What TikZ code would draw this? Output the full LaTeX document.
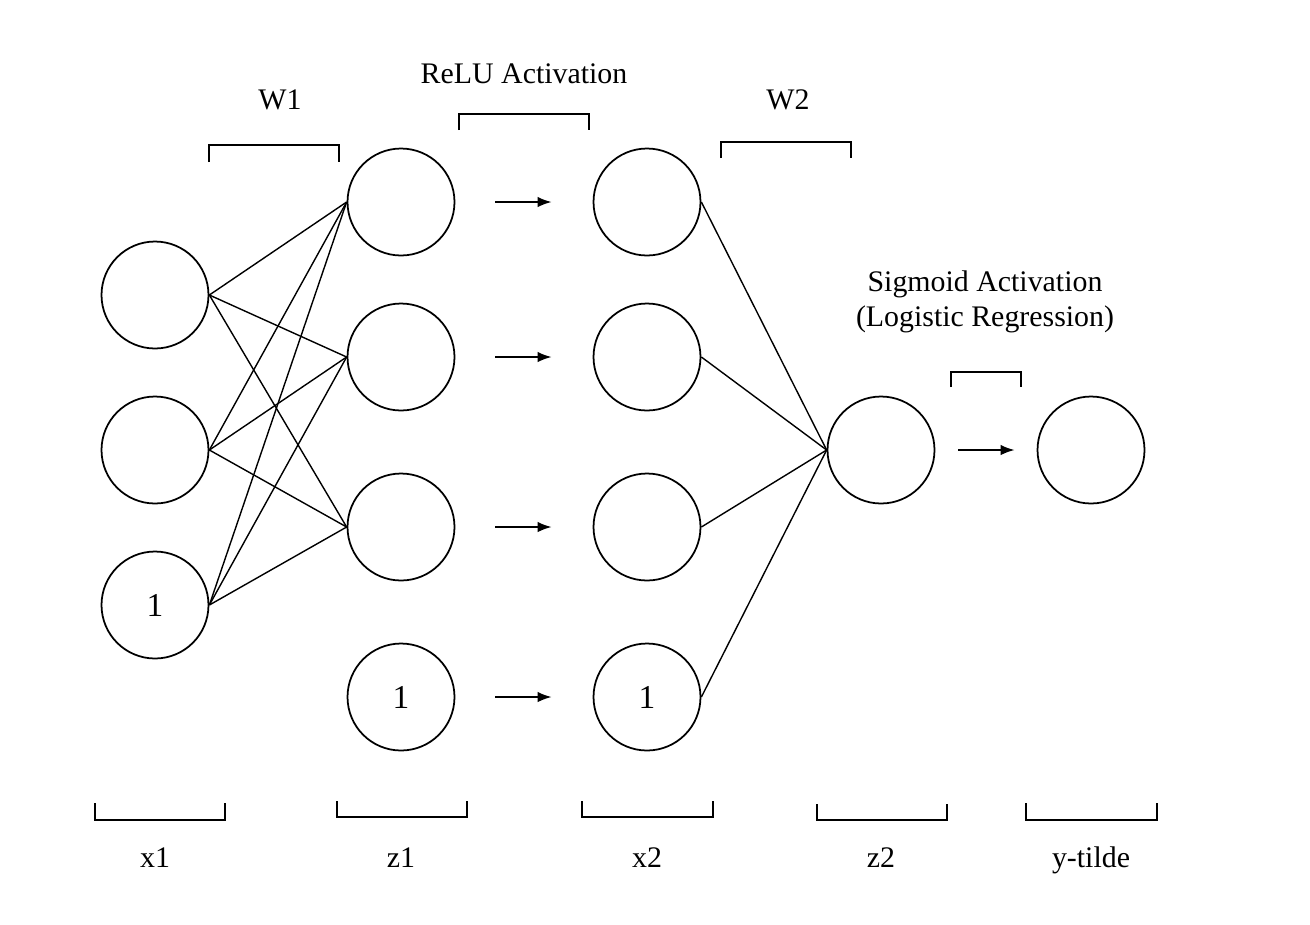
\documentclass[tikz,border=0pt]{standalone}
\usepackage{fontspec}
\setmainfont{Liberation Serif}
\usetikzlibrary{arrows.meta,positioning}

\begin{document}
\begin{tikzpicture}[x=0.02cm,y=-0.02cm,
  neuron/.style={circle,draw,line width=1pt,minimum size=2.14cm,inner sep=0pt,font=\fontsize{19}{22}\selectfont},
  lbl/.style={font=\fontsize{17}{20}\selectfont},
  edge/.style={line width=0.8pt},
  act/.style={line width=1pt,-{Latex[length=8pt,width=6pt]}},
  brk/.style={line width=1pt}]
  \useasboundingbox (0,0) rectangle (1310,924);

  % input layer x1
  \node[neuron] (x1a) at (155,295) {};
  \node[neuron] (x1b) at (155,450) {};
  \node[neuron] (x1c) at (155,605) {1};

  % hidden layer z1 and x2
  \node[neuron] (z1a) at (401,202) {};
  \node[neuron] (z1b) at (401,357) {};
  \node[neuron] (z1c) at (401,527) {};
  \node[neuron] (z1d) at (401,697) {1};
  \node[neuron] (x2a) at (647,202) {};
  \node[neuron] (x2b) at (647,357) {};
  \node[neuron] (x2c) at (647,527) {};
  \node[neuron] (x2d) at (647,697) {1};

  % output z2 and y-tilde
  \node[neuron] (z2) at (881,450) {};
  \node[neuron] (yt) at (1091,450) {};

  % weights W1
  \foreach \i in {a,b,c}
    \foreach \j in {a,b,c}
      \draw[edge] (x1\i.east) -- (z1\j.west);

  % weights W2
  \foreach \i in {a,b,c,d}
    \draw[edge] (x2\i.east) -- (z2.west);

  % activations
  \foreach \i in {a,b,c,d}
    \draw[act,shorten <=0.8cm,shorten >=0.82cm] (z1\i.east) -- (x2\i.west);
  \draw[act,shorten <=0.46cm,shorten >=0.44cm] (z2.east) -- (yt.west);

  % top brackets
  \draw[brk] (209,162) |- (339,145) -- (339,162);
  \node[lbl,anchor=base] (w1) at (280,109) {W1};
  \draw[brk] (459,130) |- (589,114) -- (589,130);
  \node[lbl,anchor=base] (relu) at (524,83) {ReLU Activation};
  \draw[brk] (721,158) |- (851,142) -- (851,158);
  \node[lbl,anchor=base] (w2) at (788,109) {W2};
  \draw[brk] (951,387) |- (1021,372) -- (1021,387);
  \node[lbl,align=center] (sig) at (985,302) {Sigmoid Activation\\(Logistic Regression)};

  % bottom brackets
  \draw[brk] (95,803) |- (225,820) -- (225,803);
  \node[lbl,anchor=base] (lx1) at (155,867) {x1};
  \draw[brk] (337,801) |- (467,817) -- (467,801);
  \node[lbl,anchor=base] (lz1) at (401,867) {z1};
  \draw[brk] (582,801) |- (713,817) -- (713,801);
  \node[lbl,anchor=base] (lx2) at (647,867) {x2};
  \draw[brk] (817,804) |- (947,820) -- (947,804);
  \node[lbl,anchor=base] (lz2) at (881,867) {z2};
  \draw[brk] (1026,803) |- (1157,820) -- (1157,803);
  \node[lbl,anchor=base] (lyt) at (1091,867) {y-tilde};

\end{tikzpicture}
\end{document}
